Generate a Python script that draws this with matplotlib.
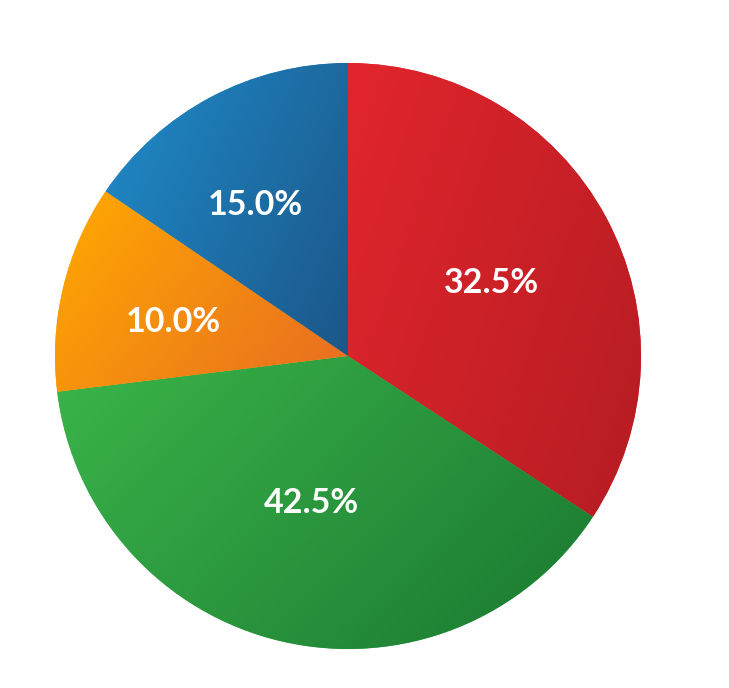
import numpy as np
import matplotlib
matplotlib.use("Agg")
import matplotlib.pyplot as plt
from matplotlib.colors import LinearSegmentedColormap

# wedge sizes as drawn in the picture (degrees share), and printed labels
values = [34.25, 38.8, 11.45, 15.5]
label_texts = ["32.5%", "42.5%", "10.0%", "15.0%"]
light = ["#e2252d", "#3bb54a", "#ffaa00", "#1f8ccb"]
dark = ["#b51d22", "#1a7831", "#e86c22", "#1c5688"]
label_dist = [0.55, 0.517, 0.607, 0.604]
label_rot = [-1.5, -0.8, 2.6, 3.7]

fig = plt.figure(figsize=(7.29, 6.88), dpi=100)
ax = fig.add_axes([0, 0, 1, 1])

cx, cy, R = 348, 332, 293
wedges, texts = ax.pie(
    values, startangle=90, counterclock=False, center=(cx, cy), radius=R,
    colors=light, frame=True, wedgeprops=dict(linewidth=0),
)
ax.set_xlim(0, 729)
ax.set_ylim(0, 688)
ax.axis("off")

for w, c1, c2 in zip(wedges, light, dark):
    bb = w.get_path().get_extents(w.get_transform()).transformed(ax.transData.inverted())
    x0, y0, x1, y1 = bb.x0, bb.y0, bb.x1, bb.y1
    n = 200
    X, Y = np.meshgrid(np.linspace(0, 1, n), np.linspace(0, 1, n))
    G = 0.65 * X + 0.35 * Y
    cmap = LinearSegmentedColormap.from_list("g", [c1, c2])
    im = ax.imshow(G, cmap=cmap, extent=(x0, x1, y0, y1), origin="upper",
                   aspect="auto", zorder=w.get_zorder() + 0.1, interpolation="bilinear")
    im.set_clip_path(w)

for w, txt, d, r in zip(wedges, label_texts, label_dist, label_rot):
    mid = np.deg2rad((w.theta1 + w.theta2) / 2 + r)
    ax.text(cx + d * R * np.cos(mid), cy + d * R * np.sin(mid), txt,
            ha="center", va="center", color="white", fontsize=24.5,
            fontweight="bold", family=["Lato", "DejaVu Sans"], zorder=10)

ax.set_xlim(0, 729)
ax.set_ylim(0, 688)
fig.savefig("out.png", dpi=100)
